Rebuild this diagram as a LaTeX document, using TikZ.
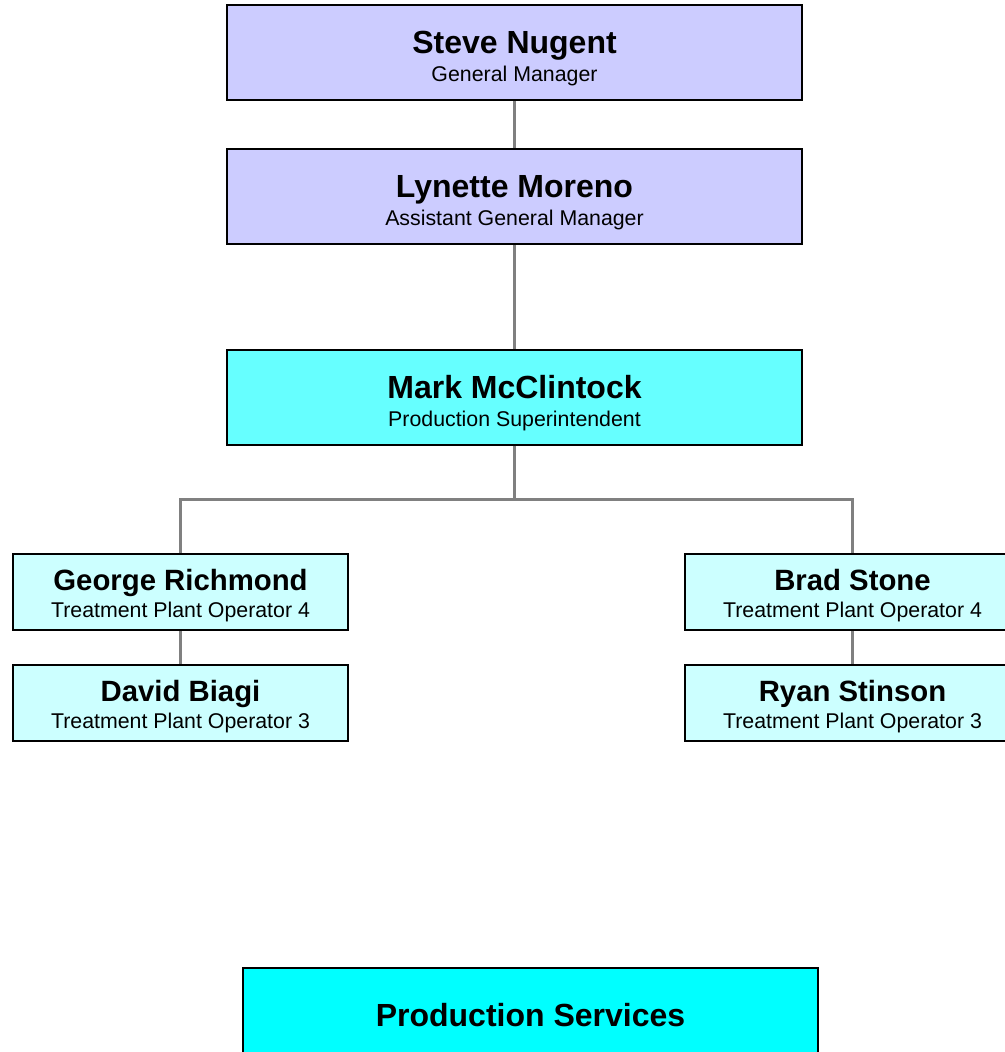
\documentclass[tikz,border=0pt]{standalone}
\usepackage{fontspec}
\setmainfont{Liberation Sans}
\usepackage{tikz}
\definecolor{gmblue}{RGB}{204,204,255}
\definecolor{supcyan}{RGB}{102,255,255}
\definecolor{opcyan}{RGB}{204,255,255}
\definecolor{unitcyan}{RGB}{0,255,255}

\begin{document}
\begin{tikzpicture}[x=0.75pt,y=-0.75pt,
    box/.style={draw=black,line width=1.5pt,align=center,inner sep=0pt,
      minimum width=431pt,minimum height=71pt,font=\fontsize{16}{20.4}\selectfont},
    gmbox/.style={box,fill=gmblue},
    supbox/.style={box,fill=supcyan},
    opbox/.style={box,fill=opcyan,minimum width=251pt,minimum height=57pt},
    unitbox/.style={box,fill=unitcyan},
    link/.style={draw=gray,line width=2.25pt}]
  % Page frame
  \clip (0,0) rectangle (1005,1052);
  \fill[white] (0,0) rectangle (1005,1052);

  % Management
  \node[gmbox] (gm) at (514.5,52.5)
    {{\bfseries\fontsize{24}{24}\selectfont\rule{0pt}{25.7pt}Steve Nugent}\\General Manager};
  \node[gmbox] (agm) at (514.5,196.5)
    {{\bfseries\fontsize{24}{24}\selectfont\rule{0pt}{25.7pt}Lynette Moreno}\\Assistant General Manager};
  \node[supbox] (sup) at (514.5,397.5)
    {{\bfseries\fontsize{24}{24}\selectfont\rule{0pt}{25.7pt}Mark McClintock}\\Production Superintendent};

  % Operators
  \node[opbox] (george) at (180.5,592)
    {{\bfseries\fontsize{22}{22}\selectfont\rule{0pt}{21.2pt}George Richmond}\\Treatment Plant Operator 4};
  \node[opbox] (david) at (180.5,703)
    {{\bfseries\fontsize{22}{22}\selectfont\rule{0pt}{21.2pt}David Biagi}\\Treatment Plant Operator 3};
  \node[opbox] (brad) at (852.5,592)
    {{\bfseries\fontsize{22}{22}\selectfont\rule{0pt}{21.2pt}Brad Stone}\\Treatment Plant Operator 4};
  \node[opbox] (ryan) at (852.5,703)
    {{\bfseries\fontsize{22}{22}\selectfont\rule{0pt}{21.2pt}Ryan Stinson}\\Treatment Plant Operator 3};

  % Unit
  \node[unitbox] (unit) at (530.5,1015.5)
    {\bfseries\fontsize{24}{24}\selectfont Production Services};

  % Connectors
  \coordinate (busL) at (george.north |- 0,499);
  \coordinate (busR) at (brad.north |- 0,499);
  \draw[link] (gm) -- (agm);
  \draw[link] (agm) -- (sup);
  \draw[link] (sup.south) -- (sup.south |- busL);
  \draw[link] (george.north) -- (busL) -- (busR) -- (brad.north);
  \draw[link] (george) -- (david);
  \draw[link] (brad) -- (ryan);
\end{tikzpicture}
\end{document}
